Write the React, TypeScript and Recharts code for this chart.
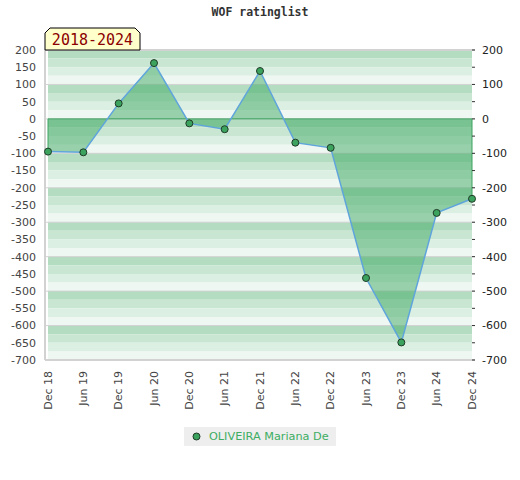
import { Area, ComposedChart, Legend, Line, ReferenceArea, ReferenceLine, XAxis, YAxis } from "recharts";

const dates = ["Dec 18", "Jun 19", "Dec 19", "Jun 20", "Dec 20", "Jun 21", "Dec 21", "Jun 22", "Dec 22", "Jun 23", "Dec 23", "Jun 24", "Dec 24"];
const ratings = [-95, -97, 45, 162, -13, -30, 139, -69, -84, -462, -649, -273, -232];
const leftTicks = [200, 150, 100, 50, 0, -50, -100, -150, -200, -250, -300, -350, -400, -450, -500, -550, -600, -650, -700];
const rightLabels = [200, 100, 0, -100, -200, -300, -400, -500, -600, -700];
const seriesName = "OLIVEIRA Mariana De";
const periodLabel = "2018-2024";
const title = "WOF ratinglist";

const STRIPES = ["#b3dcc0", "#c9e6d3", "#dcefe3", "#eef7f1"];
const GREEN = "#3ca35f";
const FONT = "'DejaVu Sans', sans-serif";

const data = dates.map((date, i) => ({ date, rating: ratings[i] }));

// 25-point bands between the left ticks, four shades per 100
const bands: { y1: number; y2: number; fill: string }[] = [];
for (let i = 0; i < leftTicks.length - 1; i++) {
  const hi = leftTicks[i];
  const mid = (leftTicks[i] + leftTicks[i + 1]) / 2;
  const lo = leftTicks[i + 1];
  bands.push({ y1: mid, y2: hi, fill: STRIPES[(i * 2) % 4] });
  bands.push({ y1: lo, y2: mid, fill: STRIPES[(i * 2 + 1) % 4] });
}

function DateTick({ x, y, payload }: any) {
  return (
    <g transform={`translate(${x},${y})`}>
      <text transform="rotate(-90)" textAnchor="end" dominantBaseline="central" fontSize={11} fill="#444" fontFamily={FONT}>
        {payload.value}
      </text>
    </g>
  );
}

function RightTick({ x, y, payload }: any) {
  const showLabel = rightLabels.includes(payload.value);
  return (
    <g>
      <line x1={x - 10} x2={x - 7} y1={y} y2={y} stroke="#333" />
      {showLabel && (
        <text x={x} y={y} dy="0.355em" textAnchor="start" fontSize={11} fill="#222" fontFamily={FONT}>
          {payload.value}
        </text>
      )}
    </g>
  );
}

function LegendBox() {
  return (
    <div style={{ display: "flex", justifyContent: "center", height: 19 }}>
      <div style={{ background: "#eeeeee", width: 152, height: 19, display: "flex", alignItems: "center", paddingLeft: 8, boxSizing: "border-box" }}>
        <svg width={9} height={9}>
          <circle cx={4.5} cy={4.5} r={3.5} fill={GREEN} stroke="#1f3b27" />
        </svg>
        <span style={{ marginLeft: 8, color: "#3cad62", fontSize: 11.25, fontFamily: FONT, whiteSpace: "nowrap" }}>{seriesName}</span>
      </div>
    </div>
  );
}

export default function App() {
  const first = data[0];
  const last = data[data.length - 1];
  return (
    <div style={{ position: "absolute", left: 0, top: 0, width: 520, height: 480, background: "#fff" }}>
      <ComposedChart width={520} height={480} data={data} margin={{ top: 50, right: 0, left: 0, bottom: 34 }}>
        <XAxis
          dataKey="date"
          height={67}
          interval={0}
          padding={{ left: 3, right: 3 }}
          tick={<DateTick />}
          tickSize={0}
          tickMargin={11}
          axisLine={{ stroke: "#d2d2d2", strokeWidth: 2 }}
          tickLine={false}
        />
        <YAxis
          yAxisId="left"
          domain={[-700, 200]}
          ticks={leftTicks}
          interval={0}
          width={45}
          tickSize={0}
          tickMargin={9}
          tickLine={false}
          axisLine={{ stroke: "#d2d2d2", strokeWidth: 2 }}
          tick={{ fontSize: 11, fill: "#444", fontFamily: FONT }}
        />
        <YAxis
          yAxisId="right"
          orientation="right"
          domain={[-700, 200]}
          ticks={leftTicks}
          interval={0}
          width={45}
          tickSize={0}
          tickMargin={7}
          tickLine={false}
          axisLine={false}
          tick={<RightTick />}
        />
        {bands.map((b) => (
          <ReferenceArea key={b.y1} yAxisId="left" y1={b.y1} y2={b.y2} fill={b.fill} fillOpacity={1} stroke="none" zIndex={40} />
        ))}
        {rightLabels.map((v) => (
          <ReferenceLine key={v} yAxisId="left" y={v} stroke="#d2d2d2" strokeWidth={v === 200 ? 2 : 1} zIndex={60} />
        ))}
        <Area
          yAxisId="left"
          dataKey="rating"
          baseValue={0}
          fill="#40a964"
          fillOpacity={0.5}
          stroke="none"
          isAnimationActive={false}
          legendType="none"
        />
        <ReferenceLine yAxisId="left" segment={[{ x: first.date, y: 0 }, { x: last.date, y: 0 }]} stroke={GREEN} />
        <ReferenceLine yAxisId="left" segment={[{ x: first.date, y: 0 }, { x: first.date, y: first.rating }]} stroke={GREEN} />
        <ReferenceLine yAxisId="left" segment={[{ x: last.date, y: 0 }, { x: last.date, y: last.rating }]} stroke={GREEN} />
        <Line
          yAxisId="right"
          dataKey="rating"
          name={seriesName}
          stroke="#5fa5dc"
          strokeWidth={1.5}
          dot={{ r: 3.5, fill: GREEN, stroke: "#1f3b27", strokeWidth: 1 }}
          isAnimationActive={false}
        />
        <Legend verticalAlign="bottom" content={<LegendBox />} />
      </ComposedChart>
      <svg width={520} height={60} style={{ position: "absolute", left: 0, top: 0, pointerEvents: "none" }}>
        <text x={260} y={16} textAnchor="middle" fontSize={11.5} fontWeight="bold" fill="#333" fontFamily="'DejaVu Sans Mono', monospace">
          {title}
        </text>
        <polygon points="45,50 45,33 50,28 135,28 140,33 140,50" fill="#ffffcc" stroke="#000" strokeWidth={1} />
        <text x={92.5} y={45} textAnchor="middle" fontSize={15} fill="#8b0000" fontFamily="'DejaVu Sans Mono', monospace">
          {periodLabel}
        </text>
      </svg>
    </div>
  );
}
